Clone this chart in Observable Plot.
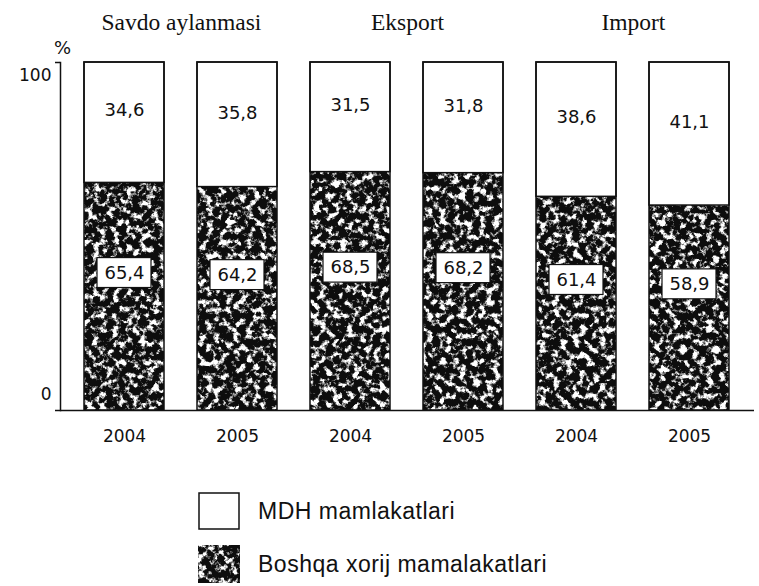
<!DOCTYPE html>
<html><head><meta charset="utf-8">
<script src="https://cdn.jsdelivr.net/npm/d3@7"></script>
<script src="https://cdn.jsdelivr.net/npm/@observablehq/plot@0.6"></script>
<style>
body{margin:0;background:#fff;}
#chart svg{display:block;}
#legend{padding-top:32px;padding-left:198px;font-family:"Liberation Sans",Arial,sans-serif;font-size:23px;letter-spacing:0.5px;color:#111;}
.row{display:flex;align-items:center;height:38px;margin-bottom:15px;}
.row svg{display:block;margin-right:18px;}
</style></head><body>
<svg width="0" height="0" style="position:absolute"><defs>
<filter id="grain" x="0" y="0" width="1" height="1" color-interpolation-filters="sRGB">
  <feTurbulence type="fractalNoise" baseFrequency="0.15" numOctaves="4" seed="7" result="n"/>
  <feColorMatrix in="n" type="matrix" values="0 0 0 0 1  0 0 0 0 1  0 0 0 0 1  6 0 0 0 -2.95" result="speck"/>
  <feFlood flood-color="#0d0d0d" result="bk"/>
  <feComposite in="speck" in2="bk" operator="over"/>
</filter>
<pattern id="tex" patternUnits="userSpaceOnUse" x="0" y="0" width="800" height="600">
  <rect x="0" y="0" width="800" height="600" fill="black" filter="url(#grain)"/>
</pattern>
</defs></svg>
<div id="chart"></div>
<div id="legend"></div>
<script>
const groups = ["Savdo aylanmasi", "Eksport", "Import"];
const years = ["2004", "2005"];
const mdhValues = [34.6, 35.8, 31.5, 31.8, 38.6, 41.1];
const otherValues = [65.4, 64.2, 68.5, 68.2, 61.4, 58.9];
const yTicks = [0, 100];
const legendLabels = ["MDH mamlakatlari", "Boshqa xorij mamalakatlari"];

const rows = mdhValues.map((m, i) => ({
  key: groups[Math.floor(i / 2)] + "|" + years[i % 2],
  group: groups[Math.floor(i / 2)],
  year: years[i % 2],
  mdh: m,
  other: otherValues[i]
}));
const headerRows = groups.map(g => ({key: g + "|" + years[0], text: g}));
const fmt = v => v.toFixed(1).replace(".", ",");

const W = 759, H = 460, mL = 60, mR = 5, pIn = 0.29, pOut = 0.193;
const step = (W - mL - mR) / (rows.length - pIn + 2 * pOut);

const chart = Plot.plot({
  width: W, height: H,
  marginLeft: mL, marginRight: mR, marginTop: 62, marginBottom: 50,
  style: {fontFamily: "DejaVu Sans, sans-serif", fontSize: "17px", color: "#111", overflow: "visible"},
  x: {domain: rows.map(d => d.key), paddingInner: pIn, paddingOuter: pOut, label: null, axis: null},
  y: {domain: [0, 100], label: null, axis: null},
  marks: [
    Plot.barY(rows, {x: "key", y1: 0, y2: "other", fill: "url(#tex)"}),
    Plot.barY(rows, {x: "key", y1: "other", y2: 100, fill: "white", stroke: "#111", strokeWidth: 1.5}),
    Plot.barY(rows, {x: "key", y1: 0, y2: 100, fill: "none", stroke: "#111", strokeWidth: 1.5}),
    Plot.text(rows, {x: "key", y: d => d.other + d.mdh / 2, text: d => fmt(d.mdh), dy: -12, fontSize: 18}),
    Plot.barY(rows, {x: "key", y1: d => d.other / 2 + 2.5, y2: d => d.other / 2 + 11.1, fill: "white", stroke: "#111", strokeWidth: 1.2, insetLeft: 13, insetRight: 13}),
    Plot.text(rows, {x: "key", y: d => d.other / 2 + 6.8, text: d => fmt(d.other), fontSize: 18}),
    Plot.ruleY([0], {stroke: "#111", strokeWidth: 1.5}),
    Plot.frame({anchor: "left", stroke: "#111", strokeWidth: 1.5}),
    Plot.axisY({ticks: yTicks, tickSize: 5, strokeWidth: 1.5, tickFormat: () => "", label: null}),
    Plot.text([100], {y: d => d, frameAnchor: "left", dx: -9, dy: 13, textAnchor: "end", fontSize: 17}),
    Plot.text([0], {y: d => d, frameAnchor: "left", dx: -9, dy: -16, textAnchor: "end", fontSize: 17}),
    Plot.text(["%"], {frameAnchor: "top-left", textAnchor: "middle", lineAnchor: "middle", dy: -14, dx: 2, fontSize: 18}),
    Plot.axisX({tickSize: 0, tickPadding: 19, tickFormat: k => k.split("|")[1], fontSize: 17, label: null}),
    Plot.text(headerRows, {x: "key", frameAnchor: "top", lineAnchor: "middle", dx: step / 2, dy: -40, text: "text", fontFamily: "Liberation Serif, serif", fontSize: 23.5, letterSpacing: 0.3, fill: "#111"})
  ]
});
document.getElementById("chart").append(chart);

const legend = document.getElementById("legend");
legendLabels.forEach((lab, i) => {
  const row = document.createElement("div");
  row.className = "row";
  row.innerHTML = i === 0
    ? '<svg width="42" height="38"><rect x="1" y="1" width="40" height="36" fill="white" stroke="#111" stroke-width="1.5"/></svg>'
    : '<svg width="42" height="38"><rect x="0" y="0" width="42" height="38" fill="url(#tex)"/></svg>';
  const span = document.createElement("span");
  span.textContent = lab;
  row.append(span);
  legend.append(row);
});
</script>
</body></html>
